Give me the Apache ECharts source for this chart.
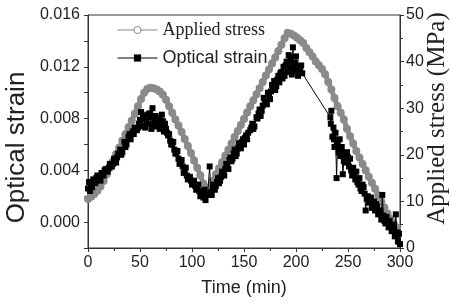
<!DOCTYPE html>
<html>
<head>
<meta charset="utf-8">
<script src="https://cdn.jsdelivr.net/npm/echarts@6/dist/echarts.min.js"></script>
<style>
  html, body { margin: 0; padding: 0; background: #fff; }
  #main { width: 454px; height: 304px; }
</style>
</head>
<body>
<div id="main"></div>
<script>
// applied stress (MPa), grey circles, right axis
const stressTime = [0, 3, 6, 9, 12, 15, 18, 21, 24, 27, 30, 33, 36, 39, 42, 45, 48, 51, 54, 57,
  60, 63, 66, 69, 72, 75, 78, 81, 84, 87, 90, 93, 96, 99, 102, 105, 108, 111, 114, 117,
  120, 123, 126, 129, 132, 135, 138, 141, 144, 147, 150, 153, 156, 159, 162, 165, 168, 171, 174, 177,
  180, 183, 186, 189, 192, 195, 198, 201, 204, 207, 210, 213, 216, 219, 222, 225, 228, 231, 234, 237,
  240, 243, 246, 249, 252, 255, 258, 261, 264, 267, 270, 273, 276, 279, 282, 285, 288, 291, 294, 297];
const stressValue = [10.5, 11.0, 11.6, 12.3, 13.2, 14.4, 15.8, 17.2, 18.6, 20.1, 21.5, 23.0, 24.4, 25.9, 27.3, 28.8, 30.4, 32.0, 33.3, 34.1,
  34.4, 34.3, 34.0, 33.6, 32.9, 31.8, 30.4, 29.0, 27.6, 26.3, 24.9, 23.4, 21.9, 20.4, 18.8, 17.2, 15.6, 13.8, 12.4, 13.0,
  14.4, 15.8, 17.1, 18.4, 19.8, 21.1, 22.4, 23.8, 25.1, 26.4, 27.7, 29.1, 30.4, 31.7, 33.0, 34.3, 35.6, 37.0, 38.3, 39.6,
  40.9, 42.3, 43.6, 45.0, 46.2, 46.0, 45.6, 45.1, 44.6, 44.0, 42.9, 42.0, 41.1, 40.0, 39.2, 38.4, 37.3, 35.6, 34.0, 32.2,
  30.4, 29.0, 27.6, 25.6, 24.0, 22.4, 20.8, 19.4, 18.0, 16.7, 15.3, 14.0, 12.7, 11.3, 10.0, 8.7, 7.4, 6.2, 5.2, 4.4];

// optical strain, black squares, left axis (sorted by time when the series is built)
const strainTime = [0, 1, 2, 3, 5, 7, 9, 11, 13, 15, 17, 19, 21, 23, 25, 27, 29, 31, 33, 35,
  37, 39, 41, 43, 45, 47, 49, 51, 52, 54, 55, 57, 58, 60, 61, 62, 64, 65, 67, 68,
  70, 72, 73, 75, 77, 79, 81, 83, 85, 87, 89, 91, 93, 95, 97, 99, 101, 103, 105, 107,
  109, 111, 112, 113, 115, 117, 118, 120, 122, 124, 126, 128, 130, 132, 134, 136, 138, 140, 142, 144,
  146, 148, 150, 152, 154, 156, 158, 160, 162, 164, 166, 168, 170, 172, 174, 176, 178, 180, 182, 184,
  186, 188, 189, 191, 192, 193, 194, 195, 196, 197, 198, 199, 200, 201, 202, 204, 206,
  233, 234, 235, 236, 237, 238, 239, 240, 241, 242, 243, 244, 245, 247, 248, 249, 251, 252, 254, 255,
  257, 258, 260, 261, 263, 264, 266, 267, 269, 270, 272, 273, 275, 276, 278, 279, 281, 282, 283, 284,
  286, 287, 289, 290, 292, 293, 295, 296, 297, 298, 299, 300,
  4, 8, 12, 16, 20, 24, 28, 32, 36, 40, 44, 48,
  50, 53, 56, 59, 63, 66, 69, 71, 74, 76,
  78, 80, 82, 84, 86, 88, 90, 92, 94, 96, 98, 100, 102, 104, 106, 108, 110,
  119, 121, 123, 125, 127, 129, 131, 133, 135, 137, 139, 141, 143, 145, 147, 149,
  151, 153, 157, 159, 163, 165, 167, 169, 171, 173, 175, 177, 179, 181, 183, 185, 187, 190, 194.5, 196.5, 199.5, 203, 205,
  233.5, 236.5, 240.5, 243.5, 246, 250, 253, 256, 259, 262, 265, 268, 271, 274, 277, 280, 285, 288, 291, 294];
const strainValue = [0.0026, 0.0031, 0.0024, 0.0029, 0.0033, 0.0030, 0.0036, 0.0034, 0.0038, 0.0036, 0.0041, 0.0039, 0.0045, 0.0043, 0.0049, 0.0046, 0.0053, 0.0056, 0.0054, 0.0062,
  0.0060, 0.0066, 0.0064, 0.0070, 0.0073, 0.0071, 0.0076, 0.0085, 0.0074, 0.0080, 0.0073, 0.0083, 0.0076, 0.0081, 0.0072, 0.0088, 0.0077, 0.0082, 0.0074, 0.0080,
  0.0075, 0.0078, 0.0070, 0.0072, 0.0067, 0.0063, 0.0060, 0.0056, 0.0053, 0.0049, 0.0046, 0.0043, 0.0040, 0.0036, 0.0034, 0.0032, 0.0030, 0.0028, 0.0026, 0.0024,
  0.0022, 0.0019, 0.0025, 0.0017, 0.0021, 0.0043, 0.0023, 0.0027, 0.0025, 0.0031, 0.0030, 0.0035, 0.0037, 0.0041, 0.0044, 0.0048, 0.0047, 0.0053, 0.0051, 0.0057,
  0.0059, 0.0062, 0.0060, 0.0067, 0.0069, 0.0071, 0.0076, 0.0074, 0.0081, 0.0084, 0.0082, 0.0090, 0.0093, 0.0091, 0.0099, 0.0101, 0.0104, 0.0102, 0.0110, 0.0108,
  0.0116, 0.0120, 0.0113, 0.0124, 0.0116, 0.0129, 0.0119, 0.0125, 0.0114, 0.0135, 0.0122, 0.0117, 0.0128, 0.0120, 0.0113, 0.0119, 0.0115,
  0.0081, 0.0086, 0.0066, 0.0073, 0.0058, 0.0069, 0.0034, 0.0062, 0.0054, 0.0064, 0.0051, 0.0058, 0.0037, 0.0052, 0.0046, 0.0054, 0.0043, 0.0049, 0.0036, 0.0042,
  0.0033, 0.0039, 0.0029, 0.0034, 0.0024, 0.0029, 0.0022, 0.0009, 0.0020, 0.0015, 0.0019, 0.0011, 0.0016, 0.0009, 0.0012, 0.0006, 0.0009, 0.0002, 0.0021, 0.0005,
  -0.0001, 0.0004, -0.0004, 0.0001, -0.0007, -0.0002, -0.0011, 0.0006, -0.0008, -0.0015, -0.0009, -0.0017,
  0.0027, 0.0034, 0.0032, 0.0040, 0.0042, 0.0045, 0.0050, 0.0052, 0.0058, 0.0068, 0.0068, 0.0073,
  0.0079, 0.0082, 0.0078, 0.0084, 0.0074, 0.0079, 0.0072, 0.0083, 0.0076, 0.0069,
  0.0068, 0.0060, 0.0062, 0.0053, 0.0055, 0.0045, 0.0048, 0.0038, 0.0042, 0.0033, 0.0035, 0.0029, 0.0032, 0.0025, 0.0029, 0.0020, 0.0023,
  0.0021, 0.0029, 0.0028, 0.0034, 0.0032, 0.0039, 0.0036, 0.0045, 0.0041, 0.0050, 0.0049, 0.0056, 0.0053, 0.0061, 0.0057, 0.0064,
  0.0065, 0.0064, 0.0073, 0.0072, 0.0080, 0.0087, 0.0086, 0.0096, 0.0092, 0.0100, 0.0095, 0.0106, 0.0109, 0.0105, 0.0113, 0.0115, 0.0111, 0.0121, 0.0127, 0.0120, 0.0123, 0.0118, 0.0121,
  0.0076, 0.0064, 0.0058, 0.0055, 0.0047, 0.0050, 0.0040, 0.0038, 0.0031, 0.0026, 0.0027, 0.0018, 0.0018, 0.0014, 0.0014, 0.0007, 0.0001, 0.0000, -0.0004, -0.0006];

const xTicks = { min: 0, max: 300, step: 50 };
const strainTicks = { min: -0.002, max: 0.016, step: 0.002 };
const stressTicks = { min: 0, max: 50, step: 10 };

const SANS = 'Liberation Sans, Arial, sans-serif';
const SERIF = 'Liberation Serif, Times New Roman, serif';
const GREY = '#8a8a8a';
const AXIS = '#333';

const strainData = strainTime
  .map((t, i) => [t, strainValue[i]])
  .sort((a, b) => a[0] - b[0]);

const chart = echarts.init(document.getElementById('main'));

chart.setOption({
  animation: false,
  backgroundColor: '#fff',
  grid: {
    left: 88, right: 54, top: 15, bottom: 56,
    show: true, borderColor: AXIS, borderWidth: 1,
    containLabel: false, outerBoundsMode: 'none'
  },
  legend: {
    orient: 'vertical',
    left: 112, top: 16,
    itemWidth: 40, itemHeight: 9, itemGap: 10,
    textStyle: { fontSize: 18, color: '#222', fontFamily: SANS },
    data: [
      {
        name: 'Applied stress',
        textStyle: { fontFamily: SERIF, fontSize: 18 },
        itemStyle: { color: '#fff', borderColor: GREY, borderWidth: 1 },
        lineStyle: { width: 1, color: GREY }
      },
      {
        name: 'Optical strain',
        lineStyle: { width: 1, color: '#000' }
      }
    ]
  },
  xAxis: {
    type: 'value',
    min: xTicks.min, max: xTicks.max, interval: xTicks.step,
    name: 'Time (min)', nameLocation: 'middle', nameGap: 31, nameMoveOverlap: false,
    nameTextStyle: { fontSize: 18, color: '#222', fontFamily: SANS },
    axisLine: { show: true, onZero: false, lineStyle: { color: AXIS, width: 1 } },
    axisTick: { show: true, length: 4, lineStyle: { color: AXIS } },
    minorTick: { show: true, splitNumber: 2, length: 3, lineStyle: { color: AXIS } },
    axisLabel: { fontSize: 16, color: '#222', fontFamily: SANS, margin: 7 },
    splitLine: { show: false }
  },
  yAxis: [
    {
      type: 'value', position: 'left',
      min: strainTicks.min, max: strainTicks.max, interval: strainTicks.step,
      name: 'Optical strain', nameLocation: 'middle', nameGap: 58, nameRotate: 90, nameMoveOverlap: false,
      nameTextStyle: { fontSize: 26, color: '#222', fontFamily: SANS, padding: [0, 32, 0, 0] },
      axisLine: { show: true, onZero: false, lineStyle: { color: AXIS, width: 1 } },
      axisTick: { show: true, length: 4, lineStyle: { color: AXIS } },
      axisLabel: {
        fontSize: 16, color: '#222', fontFamily: SANS, margin: 8,
        formatter: (v) => (Math.round(v * 1000) % 4 === 0 ? v.toFixed(3) : '')
      },
      splitLine: { show: false }
    },
    {
      type: 'value', position: 'right',
      min: stressTicks.min, max: stressTicks.max, interval: stressTicks.step,
      name: 'Applied stress (MPa)', nameLocation: 'middle', nameGap: 25, nameRotate: 90, nameMoveOverlap: false,
      nameTextStyle: { fontSize: 25, color: '#222', fontFamily: SERIF, padding: [0, 0, 0, 26] },
      axisLine: { show: true, onZero: false, lineStyle: { color: AXIS, width: 1 } },
      axisTick: { show: true, length: 4, lineStyle: { color: AXIS } },
      minorTick: { show: true, splitNumber: 2, length: 3, lineStyle: { color: AXIS } },
      axisLabel: { fontSize: 16, color: '#222', fontFamily: SANS, margin: 6 },
      splitLine: { show: false }
    }
  ],
  series: [
    {
      name: 'Applied stress',
      type: 'line',
      yAxisIndex: 1,
      data: stressTime.map((t, i) => [t, stressValue[i]]),
      symbol: 'circle', symbolSize: 8,
      itemStyle: { color: GREY },
      lineStyle: { color: GREY, width: 5 },
      z: 2
    },
    {
      name: 'Optical strain',
      type: 'line',
      yAxisIndex: 0,
      data: strainData,
      symbol: 'rect', symbolSize: 6,
      itemStyle: { color: '#000' },
      lineStyle: { color: '#000', width: 1 },
      z: 3
    }
  ]
});
</script>
</body>
</html>
